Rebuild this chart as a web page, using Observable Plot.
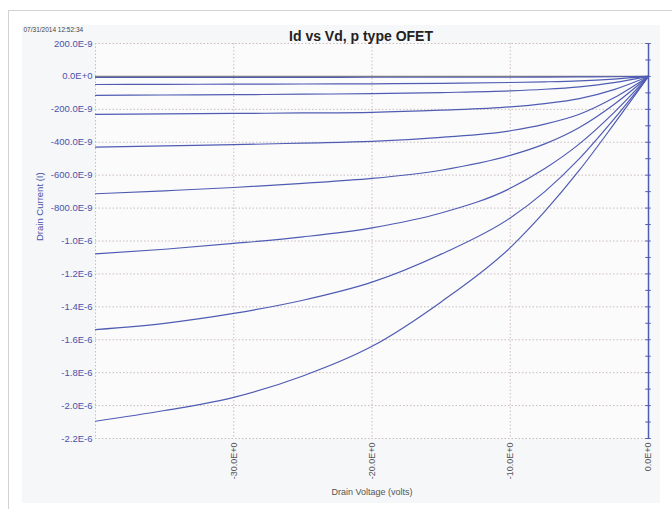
<!DOCTYPE html>
<html>
<head>
<meta charset="utf-8">
<script src="https://cdn.jsdelivr.net/npm/d3@7"></script>
<script src="https://cdn.jsdelivr.net/npm/@observablehq/plot@0.6"></script>
<style>
  html, body { margin: 0; padding: 0; background: #ffffff; }
  #wrap { position: relative; width: 672px; height: 509px; overflow: hidden; font-family: "Liberation Sans", Arial, sans-serif; }
  #frame { position: absolute; left: 8px; top: 10px; width: 700px; height: 600px; border: 1px solid #d2d2d2; box-sizing: border-box; }
  #panel { position: absolute; left: 22px; top: 25px; width: 638px; height: 478px; background: #f6f7f9; }
  #chart { position: absolute; left: 0; top: 0; }
</style>
</head>
<body>
<div id="wrap">
  <div id="frame"></div>
  <div id="panel"></div>
  <div id="chart"></div>
</div>
<script>
// Drain voltage sample points (V)
const vd = [-40, -35, -30, -25, -20, -15, -10, -7.5, -5, -2.5, 0];
// Drain current for each gate-voltage sweep (µA)
const id1 = [-0.006, -0.006, -0.006, -0.006, -0.005, -0.005, -0.005, -0.004, -0.003, -0.002, 0];
const id2 = [-0.049, -0.048, -0.047, -0.046, -0.045, -0.042, -0.037, -0.033, -0.027, -0.016, 0];
const id3 = [-0.115, -0.113, -0.111, -0.108, -0.105, -0.098, -0.088, -0.078, -0.063, -0.038, 0];
const id4 = [-0.231, -0.228, -0.225, -0.222, -0.218, -0.205, -0.185, -0.165, -0.135, -0.080, 0];
const id5 = [-0.430, -0.422, -0.415, -0.405, -0.395, -0.370, -0.330, -0.290, -0.230, -0.130, 0];
const id6 = [-0.713, -0.695, -0.675, -0.650, -0.620, -0.570, -0.480, -0.410, -0.310, -0.170, 0];
const id7 = [-1.078, -1.050, -1.015, -0.975, -0.920, -0.830, -0.680, -0.560, -0.410, -0.220, 0];
const id8 = [-1.538, -1.500, -1.440, -1.360, -1.250, -1.080, -0.860, -0.700, -0.500, -0.260, 0];
const id9 = [-2.095, -2.030, -1.950, -1.820, -1.640, -1.370, -1.040, -0.820, -0.570, -0.290, 0];
const seriesList = [id1, id2, id3, id4, id5, id6, id7, id8, id9];

// Axis ticks and labels
const yTicks = [0.2, 0, -0.2, -0.4, -0.6, -0.8, -1.0, -1.2, -1.4, -1.6, -1.8, -2.0, -2.2];
const yTickLabels = ["200.0E-9", "0.0E+0", "-200.0E-9", "-400.0E-9", "-600.0E-9", "-800.0E-9",
  "-1.0E-6", "-1.2E-6", "-1.4E-6", "-1.6E-6", "-1.8E-6", "-2.0E-6", "-2.2E-6"];
const xTicks = [-30, -20, -10, 0];
const xTickLabels = ["-30.0E+0", "-20.0E+0", "-10.0E+0", "0.0E+0"];
const xGrid = [-40, -30, -20, -10];
const minorTicks = [0.2, 0.1, 0, -0.1, -0.2, -0.3, -0.4, -0.5, -0.6, -0.7, -0.8, -0.9, -1.0, -1.1, -1.2,
  -1.3, -1.4, -1.5, -1.6, -1.7, -1.8, -1.9, -2.0, -2.1, -2.2];

const title = "Id vs Vd, p type OFET";
const timestamp = "07/31/2014 12:52:34";
const xLabel = "Drain Voltage (volts)";
const yLabel = "Drain Current (I)";

const rows = [];
seriesList.forEach((s, k) => s.forEach((v, i) => rows.push({series: k, vd: vd[i], id: v})));

const blue = "#4f5cb2";
const gridColor = "#cbbcbc";

const chart = Plot.plot({
  width: 672,
  height: 509,
  marginLeft: 95,
  marginRight: 24,
  marginTop: 43,
  marginBottom: 71,
  style: {background: "transparent", fontFamily: "'Liberation Sans', Arial, sans-serif", overflow: "visible"},
  x: {domain: [-40, 0]},
  y: {domain: [-2.2, 0.2]},
  marks: [
    Plot.frame({fill: "#fbfbfc", stroke: "none"}),
    Plot.gridY(yTicks, {stroke: gridColor, strokeOpacity: 1, strokeDasharray: "1.5,2", strokeWidth: 1}),
    Plot.gridX(xGrid, {stroke: gridColor, strokeOpacity: 1, strokeDasharray: "1.5,2", strokeWidth: 1}),
    Plot.ruleY([0], {stroke: "#8a8580", strokeWidth: 1.2}),
    Plot.line(rows, {x: "vd", y: "id", z: "series", stroke: blue, strokeWidth: 1.2, curve: "monotone-x"}),
    Plot.ruleX([0], {stroke: blue, strokeWidth: 1.5}),
    Plot.ruleY(minorTicks, {y: d => d, x1: -0.2, x2: 0.2, stroke: blue, strokeWidth: 1}),
    Plot.axisY(yTicks, {tickSize: 0, tickPadding: 3, fontSize: 9.5, color: "#4a52a8",
      tickFormat: d => yTickLabels[yTicks.indexOf(d)], label: null}),
    Plot.axisX(xTicks, {tickSize: 0, tickPadding: 4, tickRotate: -90, fontSize: 9, color: "#555",
      tickFormat: d => xTickLabels[xTicks.indexOf(d)], label: null}),
    Plot.text([xLabel], {frameAnchor: "bottom", dy: 54, fontSize: 9, fill: "#555", lineAnchor: "middle"}),
    Plot.text([yLabel], {frameAnchor: "left", dx: -56, rotate: -90, fontSize: 9.5, fill: "#4a52a8", lineAnchor: "middle"}),
    Plot.text([title], {frameAnchor: "top", dx: -11, dy: -7, fontSize: 14, fontWeight: "bold", fill: "#222", lineAnchor: "middle"}),
    Plot.text([timestamp], {frameAnchor: "top-left", dx: -72, dy: -14, fontSize: 6.5, fill: "#444", textAnchor: "start", lineAnchor: "middle"})
  ]
});
document.getElementById("chart").appendChild(chart);
</script>
</body>
</html>
